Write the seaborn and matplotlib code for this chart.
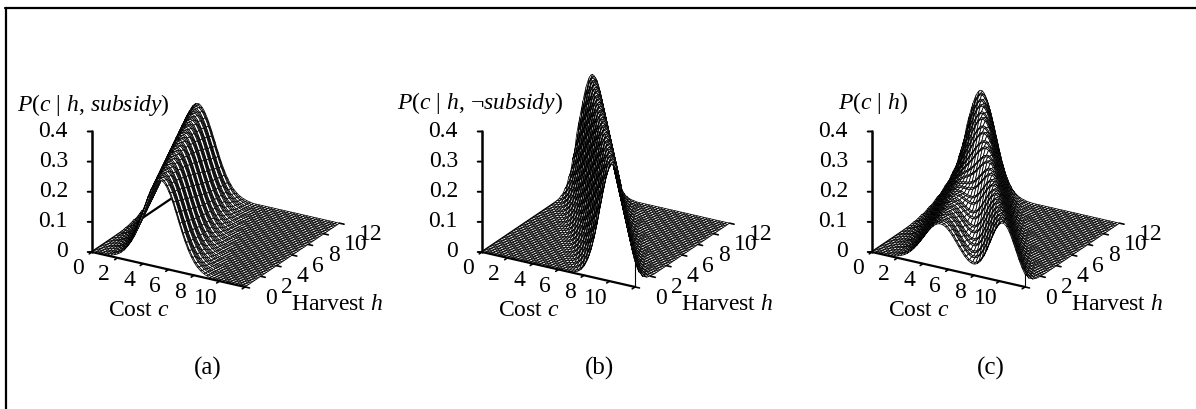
import numpy as np
import matplotlib
matplotlib.use("Agg")
import matplotlib.pyplot as plt
from matplotlib.lines import Line2D
from mpl_toolkits.mplot3d import proj3d
import seaborn as sns

sns.set_theme(style="white")
plt.rcParams["font.family"] = ["Liberation Serif", "DejaVu Sans"]
plt.rcParams["mathtext.fontset"] = "custom"
plt.rcParams["mathtext.rm"] = "Liberation Serif"
plt.rcParams["mathtext.it"] = "Liberation Serif:italic"

#valores
cost = np.arange(97) * 0.125
harvest = np.arange(49) * 0.25

#altura de la superficie segun distancia a la cresta (pasos de 0.125 en c)
profile_subsidy = [.290, .289, .285, .279, .271, .260, .249, .235, .221, .205, .189, .173,
                   .156, .141, .125, .110, .097, .084, .072, .062, .052, .044, .036, .030,
                   .025, .020, .016, .013, .010, .008, .006, .004, .003, .002, .001]
profile_nosubsidy = [.390, .387, .378, .363, .344, .321, .294, .266, .237, .208, .178, .151,
                     .126, .104, .084, .067, .053, .041, .031, .023, .017, .012, .009, .006,
                     .004, .003, .002, .001]

#posicion de la cresta para cada h (indice en cost)
ridge_subsidy = [43, 42, 42, 41, 40, 39, 39, 38, 37, 36, 36, 35, 34, 33, 33, 32, 31,
                 30, 30, 29, 28, 27, 27, 26, 25, 24, 24, 23, 22, 21, 21, 20, 19, 18,
                 18, 17, 16, 15, 15, 14, 13, 12, 12, 11, 10, 9, 9, 8, 7]
ridge_nosubsidy = [82, 81, 79, 78, 76, 75, 73, 72, 70, 69, 67, 66, 64, 63, 61, 60, 58,
                   57, 55, 54, 52, 51, 49, 48, 46, 45, 43, 42, 40, 39, 37, 36, 34, 33,
                   31, 30, 28, 27, 25, 24, 22, 21, 19, 18, 16, 15, 13, 12, 10]

z_ticks = [0, 0.1, 0.2, 0.3, 0.4]
z_labels = ["0", "0.1", "0.2", "0.3", "0.4"]
c_ticks = [0, 2, 4, 6, 8, 10]
h_ticks = [0, 2, 4, 6, 8, 10, 12]


def tabla(ridge, profile):
    z = np.zeros((len(harvest), len(cost)))
    for i, r in enumerate(ridge):
        for j in range(len(cost)):
            d = abs(j - r)
            if d < len(profile):
                z[i, j] = profile[d]
    return z


z_a = tabla(ridge_subsidy, profile_subsidy)
z_b = tabla(ridge_nosubsidy, profile_nosubsidy)
#(c) es la mezcla de las dos superficies
z_c = (z_a + z_b) / 2

W, H = 1196, 409
fig = plt.figure(figsize=(W / 100, H / 100), dpi=100)
fig.patch.set_facecolor("white")


def pantalla(ax, x, y, z):
    px, py, _ = proj3d.proj_transform(x, y, z, ax.get_proj())
    return ax.transData.transform((px, py))


def rotulo(ax, x, y, z, texto, ha):
    p = pantalla(ax, x, y, z)
    fig.text(p[0] / W, p[1] / H, texto, ha=ha, va="center", fontsize=17, color="black")


def panel(z, ox, oy, titulo, tx, ty, letra, lx):
    ax = fig.add_axes([0.1, 0.0, 420 / W, 420 / H], projection="3d", proj_type="ortho")
    ax.view_init(elev=23.1, azim=-59.8)
    ax.set_xlim(0, 12)
    ax.set_ylim(0, 12)
    ax.set_zlim(0, 0.4)
    ax.set_xticks([])
    ax.set_yticks([])
    ax.set_zticks([])
    ax.set_axis_off()
    ax.patch.set_alpha(0)
    ax.computed_zorder = False
    aspecto = (177, 188, 131)
    ax.set_box_aspect(aspecto, zoom=1.0)
    fig.canvas.draw()
    #ajustamos la escala y la posicion para que el origen caiga donde va
    largo = pantalla(ax, 12, 0, 0)[0] - pantalla(ax, 0, 0, 0)[0]
    ax.set_box_aspect(aspecto, zoom=153 / largo)
    fig.canvas.draw()
    p0 = pantalla(ax, 0, 0, 0)
    pos = ax.get_position()
    ax.set_position([pos.x0 + (ox - p0[0]) / W, pos.y0 + (H - oy - p0[1]) / H, pos.width, pos.height])
    fig.canvas.draw()

    X, Y = np.meshgrid(cost, harvest)
    ax.plot([0, 0], [0, 12], [0, 0], color="black", lw=1.6, zorder=1)
    ax.plot_surface(X, Y, z, rstride=1, cstride=2, color="white", edgecolor="black",
                    linewidth=0.55, shade=False, zorder=2)
    ax.plot([0, 12], [0, 0], [0, 0], color="black", lw=1.6, zorder=3)
    ax.plot([0, 0], [0, 0], [0, 0.4], color="black", lw=1.8, zorder=3)
    ax.plot([12, 12], [0, 0], [0, z[0, -1]], color="black", lw=0.8, zorder=3)

    for v, lab in zip(z_ticks, z_labels):
        ax.plot([0, -0.25], [0, -0.14], [v, v], color="black", lw=1.4, zorder=3)
        rotulo(ax, -1.41, -0.767, v, lab, "right")
    for v in range(0, 13, 2):
        ax.plot([v, v], [0, -0.35], [0, 0], color="black", lw=1.2, zorder=3)
    for v in c_ticks:
        rotulo(ax, v, -1.77, -0.025, str(v), "center")
    for v in h_ticks:
        ax.plot([12, 12.35], [v, v], [0, 0], color="black", lw=1.2, zorder=3)
        rotulo(ax, 13.55, v, -0.022, str(v), "left")

    fig.text((ox + 47) / W, 1 - (oy + 58) / H, "Cost $c$", ha="center", va="center", fontsize=17, color="black")
    fig.text((ox + 245) / W, 1 - (oy + 53) / H, "Harvest $h$", ha="center", va="center", fontsize=17, color="black")
    fig.text(tx / W, 1 - ty / H, titulo, ha="left", va="center", fontsize=17, color="black")
    fig.text(lx / W, 1 - 368 / H, letra, ha="center", va="center", fontsize=18, color="black")


panel(z_a, 92, 252, r"$P$($c$ | $h$, $subsidy$)", 17, 105, "(a)", 208)
panel(z_b, 482, 252, r"$P$($c$ | $h$, ¬$subsidy$)", 397, 103, "(b)", 600)
panel(z_c, 872, 252, r"$P$($c$ | $h$)", 838, 103, "(c)", 991)

#el marco solo tiene lado izquierdo y superior
fig.add_artist(Line2D([6 / W, 6 / W], [0, 1 - 8 / H], transform=fig.transFigure, color="black", lw=1.6))
fig.add_artist(Line2D([5 / W, 1], [1 - 8 / H, 1 - 8 / H], transform=fig.transFigure, color="black", lw=1.6))

fig.savefig("out.png", dpi=100)
